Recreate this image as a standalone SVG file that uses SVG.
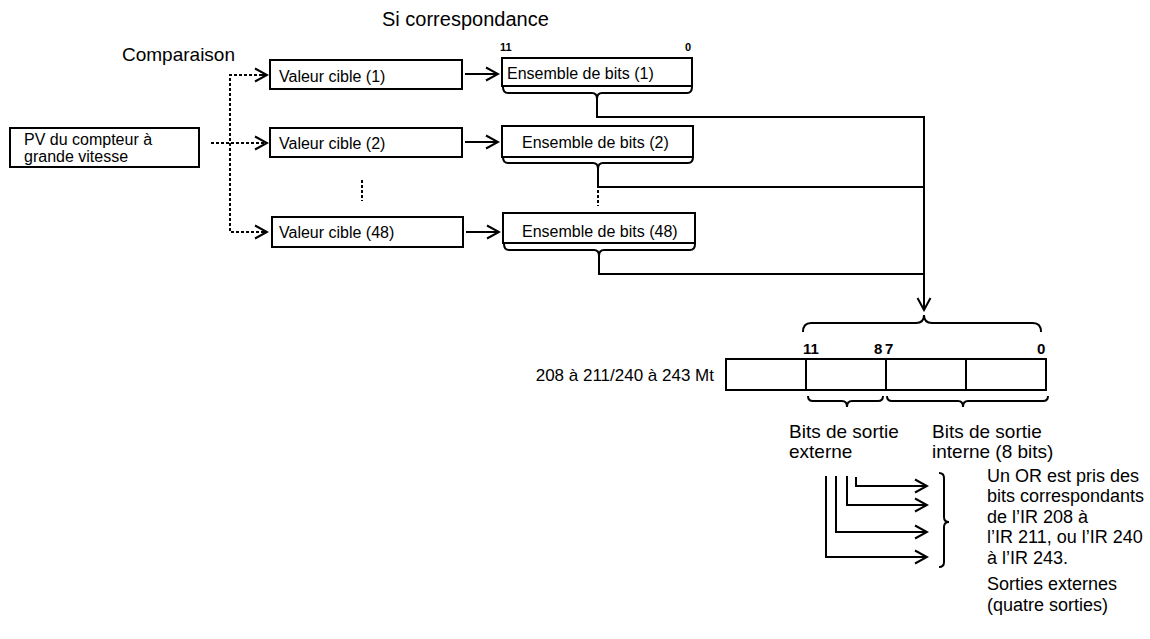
<svg xmlns="http://www.w3.org/2000/svg" width="1150" height="639" viewBox="0 0 1150 639">
  <style>
    text { font-family: "Liberation Sans", Arial, Helvetica, sans-serif; fill: #000; }
    .box { fill: #fff; stroke: #000; stroke-width: 2; }
    .ln { fill: none; stroke: #000; stroke-width: 2; }
    .dot { fill: none; stroke: #000; stroke-width: 2; stroke-dasharray: 3 2; }
    .t16 { font-size: 16px; }
    .t18 { font-size: 18px; }
    .t19 { font-size: 19px; }
    .bit { font-size: 15px; font-weight: bold; }
    .bits { font-size: 11px; font-weight: bold; }
  </style>
  <defs>
    <marker id="chev" markerUnits="userSpaceOnUse" markerWidth="16" markerHeight="16" viewBox="-14 -8 16 16" refX="0" refY="0" orient="auto">
      <path d="M-12,-6.5 L0,0 L-12,6.5" fill="none" stroke="#000" stroke-width="2"/>
    </marker>
  </defs>

  <rect width="1150" height="639" fill="#fff"/>

  <!-- headings -->
  <g id="labels-top">
    <text x="382" y="26" style="font-size:20px">Si correspondance</text>
    <text x="122" y="61" class="t19">Comparaison</text>
  </g>

  <!-- counter present value -->
  <g id="pv">
    <rect class="box" x="10" y="128" width="189" height="39"/>
    <text x="24" y="145" class="t16">PV du compteur à</text>
    <text x="24" y="162" class="t16">grande vitesse</text>
  </g>

  <!-- target values -->
  <g id="valeur-1">
    <rect class="box" x="270" y="60" width="192" height="29"/>
    <text x="279" y="82" class="t16">Valeur cible (1)</text>
  </g>
  <g id="valeur-2">
    <rect class="box" x="270" y="128" width="192" height="29"/>
    <text x="279" y="149" class="t16">Valeur cible (2)</text>
  </g>
  <g id="valeur-48">
    <rect class="box" x="272" y="217" width="191" height="30"/>
    <text x="279" y="238" class="t16">Valeur cible (48)</text>
  </g>

  <!-- bit patterns -->
  <g id="ensemble-1">
    <rect class="box" x="502" y="58" width="190" height="28"/>
    <text x="500" y="51" class="bits">11</text>
    <text x="685" y="51" class="bits">0</text>
    <text x="507" y="79" class="t16">Ensemble de bits (1)</text>
  </g>
  <g id="ensemble-2">
    <rect class="box" x="502" y="126" width="191" height="31"/>
    <text x="522" y="148" class="t16">Ensemble de bits (2)</text>
  </g>
  <g id="ensemble-48">
    <rect class="box" x="503" y="213" width="192" height="30"/>
    <text x="522" y="237" class="t16">Ensemble de bits (48)</text>
  </g>

  <!-- output register -->
  <g id="register">
    <text x="714" y="381" style="font-size:17px" text-anchor="end">208 à 211/240 à 243 Mt</text>
    <rect class="box" x="726" y="359" width="320" height="31"/>
    <line class="ln" x1="806" y1="359" x2="806" y2="390"/>
    <line class="ln" x1="886" y1="359" x2="886" y2="390"/>
    <line class="ln" x1="966" y1="359" x2="966" y2="390"/>
    <text x="803" y="354" class="bit">11</text>
    <text x="874" y="354" class="bit">8</text>
    <text x="885" y="354" class="bit">7</text>
    <text x="1037" y="354" class="bit">0</text>
    <!-- brace over the register -->
    <path class="ln" d="M803,332 Q803,323 811,323 L916,323 Q924,323 924,315 Q924,323 932,323 L1033,323 Q1041,323 1041,332"/>
    <!-- braces under the register -->
    <path class="ln" d="M808,396 Q808,401 813,401 L842,401 Q847,401 847,407 Q847,401 852,401 L878,401 Q883,401 883,396"/>
    <path class="ln" d="M887,396 Q887,401 892,401 L958,401 Q963,401 963,407 Q963,401 968,401 L1043,401 Q1048,401 1048,396"/>
  </g>

  <g id="labels-bits">
    <text x="789" y="438" class="t19">Bits de sortie</text>
    <text x="789" y="458" class="t19">externe</text>
    <text x="932" y="438" class="t19">Bits de sortie</text>
    <text x="932" y="458" class="t19">interne (8 bits)</text>
  </g>

  <g id="note">
    <path class="ln" d="M939,473 Q944,473 944,478 L944,517 Q944,522 949,522 Q944,522 944,527 L944,562 Q944,567 939,567"/>
    <text class="t18">
      <tspan x="987" y="482">Un OR est pris des</tspan>
      <tspan x="987" y="502">bits correspondants</tspan>
      <tspan x="987" y="523">de l’IR 208 à</tspan>
      <tspan x="987" y="543">l’IR 211, ou l’IR 240</tspan>
      <tspan x="987" y="564">à l’IR 243.</tspan>
      <tspan x="987" y="590">Sorties externes</tspan>
      <tspan x="987" y="611">(quatre sorties)</tspan>
    </text>
  </g>

  <!-- connectors -->
  <g id="connectors">
    <!-- comparison fan-out (dotted) -->
    <line class="dot" x1="211" y1="143" x2="267" y2="143" marker-end="url(#chev)"/>
    <polyline class="dot" points="267,75 230,75 230,232 267,232"/>
    <line class="ln" x1="262" y1="75" x2="267" y2="75" marker-end="url(#chev)"/>
    <line class="ln" x1="262" y1="232" x2="267" y2="232" marker-end="url(#chev)"/>
    <line class="dot" x1="362" y1="180" x2="362" y2="201"/>

    <!-- match arrows -->
    <line class="ln" x1="465" y1="74" x2="498" y2="74" marker-end="url(#chev)"/>
    <line class="ln" x1="465" y1="142" x2="498" y2="142" marker-end="url(#chev)"/>
    <line class="ln" x1="466" y1="232" x2="499" y2="232" marker-end="url(#chev)"/>

    <!-- braces under bit patterns, gathered to the register -->
    <path class="ln" d="M503,87 Q503,93 508,93 L592,93 Q597,93 597,99 Q597,93 602,93 L687,93 Q692,93 692,87"/>
    <polyline class="ln" points="597,99 597,117 924,117"/>
    <path class="ln" d="M503,157 Q503,163 508,163 L593,163 Q598,163 598,169 Q598,163 603,163 L688,163 Q693,163 693,157"/>
    <polyline class="ln" points="598,169 598,187 924,187"/>
    <line class="dot" x1="598" y1="190" x2="598" y2="206"/>
    <path class="ln" d="M504,244 Q504,250 509,250 L594,250 Q599,250 599,256 Q599,250 604,250 L690,250 Q695,250 695,244"/>
    <polyline class="ln" points="599,256 599,274 924,274"/>
    <line class="ln" x1="924" y1="116" x2="924" y2="310" marker-end="url(#chev)"/>

    <!-- external outputs -->
    <polyline class="ln" points="856,477 856,486 927,486" marker-end="url(#chev)"/>
    <polyline class="ln" points="847,476 847,505 927,505" marker-end="url(#chev)"/>
    <polyline class="ln" points="836,476 836,532 927,532" marker-end="url(#chev)"/>
    <polyline class="ln" points="826,476 826,557 927,557" marker-end="url(#chev)"/>
  </g>
</svg>
